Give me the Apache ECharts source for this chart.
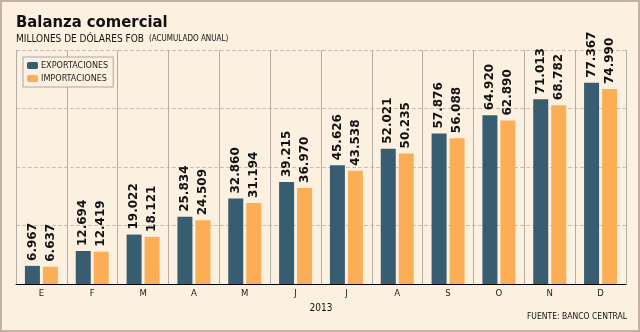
<!DOCTYPE html>
<html><head><meta charset="utf-8">
<script src="https://cdn.jsdelivr.net/npm/echarts@6/dist/echarts.min.js"></script>
<style>html,body{margin:0;padding:0;background:#FCF0E1}#c{width:640px;height:332px}</style>
</head><body><div id="c"></div>
<script>
const months = ['E','F','M','A','M','J','J','A','S','O','N','D'];
const exportaciones = [6967,12694,19022,25834,32860,39215,45626,52021,57876,64920,71013,77367];
const importaciones = [6637,12419,18121,24509,31194,36970,43538,50235,56088,62890,68782,74990];
const seriesNames = ['EXPORTACIONES','IMPORTACIONES'];
const yearLabel = '2013';

const COND = '"DejaVu Sans Condensed", "DejaVu Sans"';
const chart = echarts.init(document.getElementById('c'), null, {renderer:'canvas'});
const fmt = p => (p.value/1000).toFixed(3);
const labelCfg = {show:true, position:'top', rotate:90, align:'left', verticalAlign:'middle', distance:5,
  formatter:fmt, fontFamily:'DejaVu Sans', fontWeight:'bold', fontSize:12, color:'#111'};
chart.setOption({
  backgroundColor:'#FCF0E1',
  animation:false,
  title:[
    {text:'Balanza comercial', left:11, top:9, textStyle:{fontFamily:COND, fontWeight:'bold', fontSize:16.5, color:'#111'}},
    {text:'{a|MILLONES DE DÓLARES FOB} {b|(ACUMULADO ANUAL)}', left:11, top:25,
     textStyle:{fontWeight:'normal', rich:{a:{fontFamily:COND, fontWeight:'normal', fontSize:10, color:'#111'}, b:{fontFamily:COND, fontWeight:'normal', fontSize:8, color:'#111'}}}},
    {text:'FUENTE: BANCO CENTRAL', right:8, top:307, textStyle:{fontFamily:COND, fontSize:8.5, fontWeight:'normal', color:'#111'}}
  ],
  legend:{orient:'vertical', left:23, top:57, itemWidth:11, itemHeight:7, itemGap:4, padding:[4,5,4,4],
    borderColor:'#A8A8A8', borderWidth:1, backgroundColor:'#FCF0E1',
    textStyle:{fontFamily:COND, fontSize:9, color:'#222', padding:[0,0,0,-2]}, data:seriesNames},
  grid:{left:16, right:14, top:50, bottom:48},
  xAxis:{type:'category', data:months, name:yearLabel, nameLocation:'middle', nameGap:16,
    nameTextStyle:{fontFamily:COND, fontSize:10, color:'#111'},
    axisLine:{lineStyle:{color:'#000', width:1}}, axisTick:{show:false},
    axisLabel:{fontFamily:COND, fontSize:9.5, color:'#222', margin:5},
    splitLine:{show:true, lineStyle:{color:'#B5ADA5', width:1}}},
  yAxis:{type:'value', min:0, max:90000, interval:22500, axisLabel:{show:false}, axisLine:{show:false}, axisTick:{show:false},
    splitLine:{show:true, lineStyle:{color:'#C8C0B8', type:'dashed', width:1}}},
  series:[
    {name:seriesNames[0], type:'bar', data:exportaciones, barWidth:15, barGap:'20%', itemStyle:{color:'#385D71'}, label:labelCfg},
    {name:seriesNames[1], type:'bar', data:importaciones, barWidth:15, barGap:'20%', itemStyle:{color:'#FBAE55'}, label:labelCfg}
  ],
  graphic:[{type:'rect', silent:true, z:100, shape:{x:1,y:1,width:638,height:330}, style:{fill:'none', stroke:'#C6B0A4', lineWidth:2}}]
});
</script></body></html>
